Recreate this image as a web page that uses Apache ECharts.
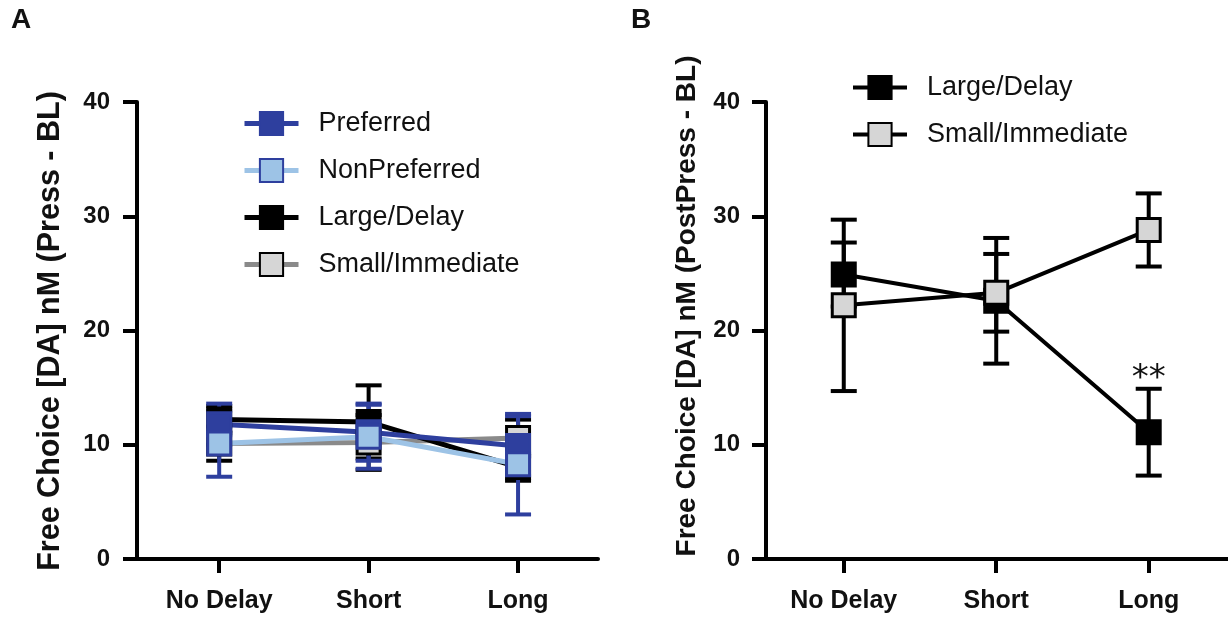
<!DOCTYPE html>
<html>
<head>
<meta charset="utf-8">
<script src="https://cdn.jsdelivr.net/npm/echarts@6/dist/echarts.min.js"></script>
<style>
  html, body { margin: 0; padding: 0; background: #fff; }
  #chart { width: 1228px; height: 619px; }
</style>
</head>
<body>
<div id="chart"></div>
<script>
const categories = ['No Delay', 'Short', 'Long']
const catIdx = [0, 1, 2]
const yTicks = [0, 10, 20, 30, 40]

// panel A
const prefMean = [11.8, 11.1, 9.9]
const prefErr = [1.8, 2.5, 2.6]
const nonPrefMean = [10.1, 10.7, 8.3]
const nonPrefErr = [2.9, 2.8, 4.4]
const largeAMean = [12.2, 12.0, 8.05]
const largeAErr = [1.2, 3.2, 1.2]
const smallAMean = [10.1, 10.2, 10.6]
const smallAErr = [1.5, 2.4, 1.6]

// panel B
const largeBMean = [24.9, 22.6, 11.1]
const largeBErr = [2.8, 5.5, 3.8]
const smallBMean = [22.2, 23.3, 28.8]
const smallBErr = [7.5, 3.4, 3.2]
const starText = '**'

const FONT = '"Liberation Sans", Arial, sans-serif'
const DARK_BLUE = '#2e3f9e'
const LIGHT_BLUE = '#9dc3e6'
const GRAY_LINE = '#8a8a8a'
const LIGHT_GRAY = '#d6d6d6'

const pts = (mean) => mean.map((v, i) => [catIdx[i], v])
const errPts = (mean, err) => mean.map((v, i) => [catIdx[i], v, err[i]])

const errorBars = (idx, mean, err, color) => ({
  type: 'custom',
  xAxisIndex: idx,
  yAxisIndex: idx,
  silent: true,
  encode: { x: 0, y: 1 },
  data: errPts(mean, err),
  renderItem: (params, api) => {
    const x = api.value(0)
    const m = api.value(1)
    const e = api.value(2)
    const top = api.coord([x, m + e])
    const bot = api.coord([x, m - e])
    const half = 13
    const style = { stroke: color, lineWidth: 4 }
    return {
      type: 'group',
      children: [
        { type: 'line', shape: { x1: top[0], y1: top[1], x2: bot[0], y2: bot[1] }, style },
        { type: 'line', shape: { x1: top[0] - half, y1: top[1], x2: top[0] + half, y2: top[1] }, style },
        { type: 'line', shape: { x1: bot[0] - half, y1: bot[1], x2: bot[0] + half, y2: bot[1] }, style }
      ]
    }
  }
})

const lineSeries = (idx, name, mean, lineColor, fill, border, width, extra) => Object.assign({
  type: 'line',
  name,
  xAxisIndex: idx,
  yAxisIndex: idx,
  data: pts(mean),
  symbol: 'rect',
  symbolSize: 23,
  lineStyle: { color: lineColor, width },
  itemStyle: { color: fill, borderColor: border, borderWidth: 3 },
  emphasis: { disabled: true }
}, extra || {})

const xAxisOf = (idx, min, max) => ({
  type: 'value',
  gridIndex: idx,
  min,
  max,
  splitLine: { show: false },
  axisLine: { onZero: false, lineStyle: { color: '#000', width: 4 } },
  axisTick: { customValues: catIdx, length: 14, lineStyle: { color: '#000', width: 4 } },
  axisLabel: {
    customValues: catIdx,
    formatter: v => categories[Math.round(v)],
    margin: 30,
    fontSize: 25,
    fontWeight: 'bold',
    fontFamily: FONT,
    color: '#111'
  }
})

const yAxisOf = (idx, margin) => ({
  type: 'value',
  gridIndex: idx,
  min: 0,
  max: 40,
  splitLine: { show: false },
  axisLine: { show: true, onZero: false, lineStyle: { color: '#000', width: 4 } },
  axisTick: { show: true, customValues: yTicks, length: 14, lineStyle: { color: '#000', width: 4 } },
  axisLabel: {
    customValues: yTicks,
    margin,
    fontSize: 24,
    fontWeight: 'bold',
    fontFamily: FONT,
    color: '#111',
    padding: [6, 0, 0, 0]
  }
})

const legendOf = (left, top, names, lineWidth) => ({
  left,
  top,
  orient: 'vertical',
  itemWidth: 54,
  itemHeight: 29,
  itemGap: 20,
  selectedMode: false,
  data: names,
  lineStyle: { width: lineWidth },
  formatter: n => n.replace(' (B)', ''),
  textStyle: { fontSize: 27, fontFamily: FONT, color: '#111', padding: [0, 0, 0, 15] }
})

const chart = echarts.init(document.getElementById('chart'))
chart.setOption({
  animation: false,
  backgroundColor: '#fff',
  grid: [
    { left: 137, top: 102, width: 461, height: 457 },
    { left: 766, top: 102, width: 462, height: 457 }
  ],
  xAxis: [xAxisOf(0, -0.55, 2.535), xAxisOf(1, -0.51, 2.52)],
  yAxis: [yAxisOf(0, 27), yAxisOf(1, 26)],
  legend: [
    legendOf(237, 105, ['Preferred', 'NonPreferred', 'Large/Delay', 'Small/Immediate'], 5),
    legendOf(846, 69, ['Large/Delay (B)', 'Small/Immediate (B)'], 4)
  ],
  graphic: [
    { type: 'text', x: 21, y: 20, style: { text: 'A', font: 'bold 28px ' + FONT, fill: '#111', align: 'center', verticalAlign: 'middle' } },
    { type: 'text', x: 641, y: 20, style: { text: 'B', font: 'bold 28px ' + FONT, fill: '#111', align: 'center', verticalAlign: 'middle' } },
    { type: 'text', x: 51, y: 331, rotation: Math.PI / 2, style: { text: 'Free Choice [DA] nM (Press - BL)', font: 'bold 30.5px ' + FONT, fill: '#111', align: 'center', verticalAlign: 'middle' } },
    { type: 'text', x: 687, y: 306, rotation: Math.PI / 2, style: { text: 'Free Choice [DA] nM (PostPress - BL)', font: 'bold 28px ' + FONT, fill: '#111', align: 'center', verticalAlign: 'middle' } }
  ],
  series: [
    errorBars(0, smallAMean, smallAErr, '#000'),
    errorBars(0, largeAMean, largeAErr, '#000'),
    errorBars(0, prefMean, prefErr, DARK_BLUE),
    errorBars(0, nonPrefMean, nonPrefErr, DARK_BLUE),
    lineSeries(0, 'Small/Immediate', smallAMean, GRAY_LINE, LIGHT_GRAY, '#000', 5),
    lineSeries(0, 'Large/Delay', largeAMean, '#000', '#000', '#000', 5),
    lineSeries(0, 'Preferred', prefMean, DARK_BLUE, DARK_BLUE, DARK_BLUE, 5),
    lineSeries(0, 'NonPreferred', nonPrefMean, LIGHT_BLUE, LIGHT_BLUE, DARK_BLUE, 5),

    errorBars(1, largeBMean, largeBErr, '#000'),
    errorBars(1, smallBMean, smallBErr, '#000'),
    lineSeries(1, 'Large/Delay (B)', largeBMean, '#000', '#000', '#000', 4, {
      markPoint: {
        silent: true,
        symbol: 'rect',
        symbolSize: 0,
        data: [{ coord: [2, largeBMean[2] + largeBErr[2] + 0.8] }],
        label: { show: true, position: 'inside', formatter: starText, fontSize: 34, fontFamily: '"DejaVu Sans", sans-serif', color: '#111' }
      }
    }),
    lineSeries(1, 'Small/Immediate (B)', smallBMean, '#000', LIGHT_GRAY, '#000', 4)
  ]
})
</script>
</body>
</html>
